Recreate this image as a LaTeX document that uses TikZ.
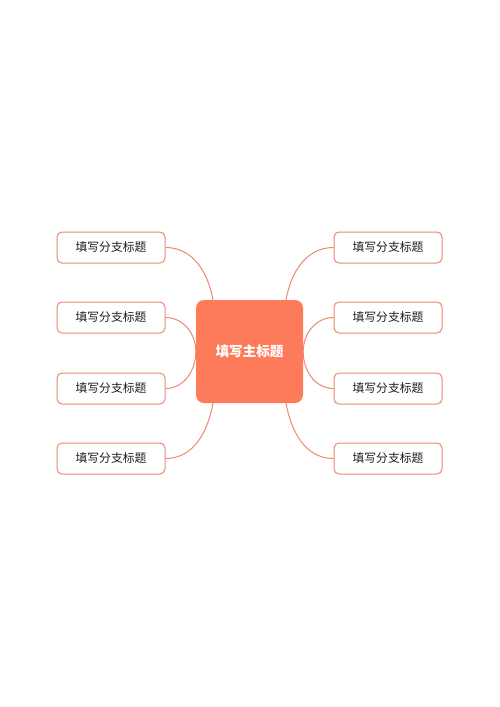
\documentclass[tikz,border=0pt]{standalone}
\usepackage{fontspec}
\newfontfamily\cjk{Noto Sans CJK SC}
\definecolor{mainfill}{HTML}{FD7B5B}
\definecolor{lineclr}{HTML}{EB8A70}
\definecolor{txtclr}{HTML}{1E1E1E}
\tikzset{
  mainbox/.style={draw=none, fill=mainfill, rounded corners=8pt, minimum width=107pt, minimum height=103pt, inner sep=0pt, text=white, font=\cjk\bfseries\fontsize{13.6}{16}\selectfont},
  subbox/.style={draw=lineclr, line width=1pt, fill=white, rounded corners=5pt, minimum width=108pt, minimum height=31pt, inner sep=0pt, text=txtclr, font=\cjk\fontsize{11.8}{14}\selectfont},
  link/.style={draw=lineclr, line width=1pt}
}
\begin{document}
\begin{tikzpicture}[x=1pt,y=-1pt]
\useasboundingbox[fill=white] (0,0) rectangle (500,707);
\node[mainbox] (c) at (249.5,351.5) {填写主标题};
\node[subbox] (l1) at (111,247.5) {填写分支标题};
\node[subbox] (l2) at (111,317.5) {填写分支标题};
\node[subbox] (l3) at (111,388.5) {填写分支标题};
\node[subbox] (l4) at (111,458.5) {填写分支标题};
\node[subbox] (r1) at (388,247.5) {填写分支标题};
\node[subbox] (r2) at (388,317.5) {填写分支标题};
\node[subbox] (r3) at (388,388.5) {填写分支标题};
\node[subbox] (r4) at (388,458.5) {填写分支标题};
\coordinate (ctl) at (213,300);
\coordinate (cbl) at (213,403);
\coordinate (ctr) at (286,300);
\coordinate (cbr) at (286,403);
\draw[link] (l1.east) to[out=0,in=100] (ctl);
\draw[link] (l2.east) to[out=0,in=90] (c.west);
\draw[link] (l3.east) to[out=0,in=-90] (c.west);
\draw[link] (l4.east) to[out=0,in=-100] (cbl);
\draw[link] (r1.west) to[out=180,in=80] (ctr);
\draw[link] (r2.west) to[out=180,in=90] (c.east);
\draw[link] (r3.west) to[out=180,in=-90] (c.east);
\draw[link] (r4.west) to[out=180,in=-80] (cbr);
\end{tikzpicture}
\end{document}
